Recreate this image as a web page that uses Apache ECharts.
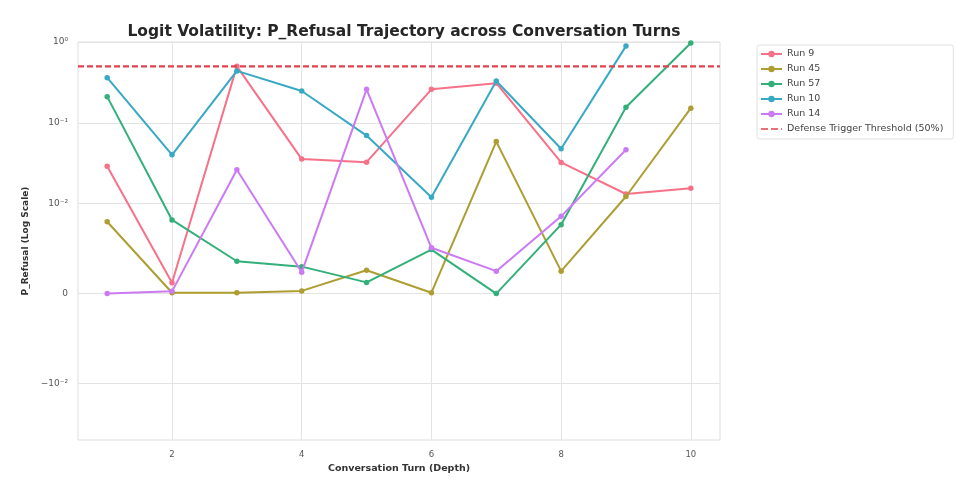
<!DOCTYPE html>
<html>
<head>
<meta charset="utf-8">
<script src="https://cdn.jsdelivr.net/npm/echarts@6/dist/echarts.min.js"></script>
<style>
  html, body { margin: 0; padding: 0; background: #fff; }
  #chart { width: 960px; height: 484px; }
</style>
</head>
<body>
<div id="chart"></div>
<script>
// turns on the x axis
const turns = [1, 2, 3, 4, 5, 6, 7, 8, 9, 10];

// P_Refusal per run (raw probabilities)
const run9  = [0.029, 0.0012, 0.5, 0.0357, 0.0327, 0.26, 0.31, 0.0324, 0.0132, 0.0156];
const run45 = [0.008, 0.0001, 0.0001, 0.0003, 0.0026, 0.0001, 0.0587, 0.0025, 0.0123, 0.152];
const run57 = [0.211, 0.0082, 0.0036, 0.0030, 0.00125, 0.0049, 0, 0.00767, 0.156, 0.97];
const run10 = [0.362, 0.0403, 0.439, 0.248, 0.0697, 0.012, 0.33, 0.0478, 0.89, null];
const run14 = [0, 0.00025, 0.0263, 0.00237, 0.26, 0.0051, 0.0025, 0.0086, 0.0465, null];

const runNames = ["Run 9", "Run 45", "Run 57", "Run 10", "Run 14"];
const runColors = ["#f77189", "#ae9d31", "#33b07a", "#38a9c5", "#cc7af4"];

const threshold = 0.5;
const thresholdName = "Defense Trigger Threshold (50%)";

// y ticks (raw values) and their labels
const yTickValues = [1, 0.1, 0.01, 0, -0.01];
const yTickLabels = ["10\u2070", "10\u207B\u00B9", "10\u207B\u00B2", "0", "\u221210\u207B\u00B2"];
const xTickValues = [2, 4, 6, 8, 10];

// symlog like matplotlib (linthresh 0.01, linscale 1)
const LINTHRESH = 0.01;
const LINSCALE_ADJ = 1 / (1 - 1 / 10);
function symlog(v) {
  if (v === null) return null;
  const a = Math.abs(v);
  if (a <= LINTHRESH) return v / LINTHRESH * LINSCALE_ADJ;
  return Math.sign(v) * (LINSCALE_ADJ + Math.log10(a / LINTHRESH));
}

const yTickPos = yTickValues.map(symlog);

const chart = echarts.init(document.getElementById("chart"));

const runs = [run9, run45, run57, run10, run14];
const series = runs.map((vals, i) => ({
  name: runNames[i],
  type: "line",
  data: turns.map((t, j) => vals[j] === null ? null : [t, symlog(vals[j])]).filter(d => d),
  symbol: "circle",
  symbolSize: 5.5,
  color: runColors[i],
  lineStyle: { width: 2, color: runColors[i] },
  itemStyle: { color: runColors[i] },
  emphasis: { disabled: true },
  z: 3 + i
}));

series.push({
  name: thresholdName,
  type: "line",
  data: [[0.55, symlog(threshold)], [10.45, symlog(threshold)]],
  symbol: "none",
  color: "#e0424e",
  lineStyle: { width: 2.2, color: "#e0424e", type: [6, 3] },
  emphasis: { disabled: true },
  z: 10
});

// legend entries; the threshold gets a dashed icon without marker
const legendData = runNames.map(n => ({ name: n })).concat([{
  name: thresholdName,
  icon: "path://M0,3.2h7v1.6h-7z M10,3.2h7v1.6h-7z M20,3.2h1v1.6h-1z",
  itemStyle: { color: "#e0424e" }
}]);

const option = {
  animation: false,
  title: {
    text: "Logit Volatility: P_Refusal Trajectory across Conversation Turns",
    left: 399,
    textAlign: "center",
    top: 19,
    textStyle: { fontFamily: "DejaVu Sans", fontSize: 15.5, fontWeight: "bold", color: "#262626" }
  },
  grid: {
    left: 78, right: 240, top: 42, bottom: 44,
    show: true, borderColor: "#dedede", borderWidth: 1, backgroundColor: "#fff"
  },
  legend: {
    orient: "vertical",
    left: 757,
    top: 45,
    padding: [4, 10, 5, 3],
    borderColor: "#e0e0e0",
    borderWidth: 1,
    borderRadius: 2,
    backgroundColor: "#fff",
    itemWidth: 21,
    itemHeight: 8,
    itemGap: 5,
    textStyle: { fontFamily: "DejaVu Sans", fontSize: 9.5, color: "#444" },
    data: legendData
  },
  xAxis: {
    type: "value",
    min: 0.55,
    max: 10.45,
    name: "Conversation Turn (Depth)",
    nameLocation: "middle",
    nameGap: 22,
    nameTextStyle: { fontFamily: "DejaVu Sans", fontSize: 9.5, fontWeight: "bold", color: "#333" },
    axisLine: { show: false },
    axisTick: { show: false, customValues: xTickValues },
    axisLabel: { customValues: xTickValues, fontFamily: "DejaVu Sans", fontSize: 8.5, color: "#555", margin: 10 },
    splitLine: { show: true, lineStyle: { color: "#e3e3e3", width: 1 } }
  },
  yAxis: {
    type: "value",
    min: symlog(-0.05),
    max: symlog(1),
    name: "P_Refusal (Log Scale)",
    nameLocation: "middle",
    nameGap: 45,
    nameTextStyle: { fontFamily: "DejaVu Sans", fontSize: 9, fontWeight: "bold", color: "#333" },
    axisLine: { show: false },
    axisTick: { show: false, customValues: yTickPos },
    axisLabel: {
      customValues: yTickPos,
      fontFamily: "DejaVu Sans", fontSize: 9, color: "#555", margin: 10,
      formatter: function (v) {
        for (let i = 0; i < yTickPos.length; i++) {
          if (Math.abs(yTickPos[i] - v) < 1e-6) return yTickLabels[i];
        }
        return "";
      }
    },
    splitLine: { show: true, lineStyle: { color: "#e3e3e3", width: 1 } }
  },
  series: series
};

chart.setOption(option);
</script>
</body>
</html>
